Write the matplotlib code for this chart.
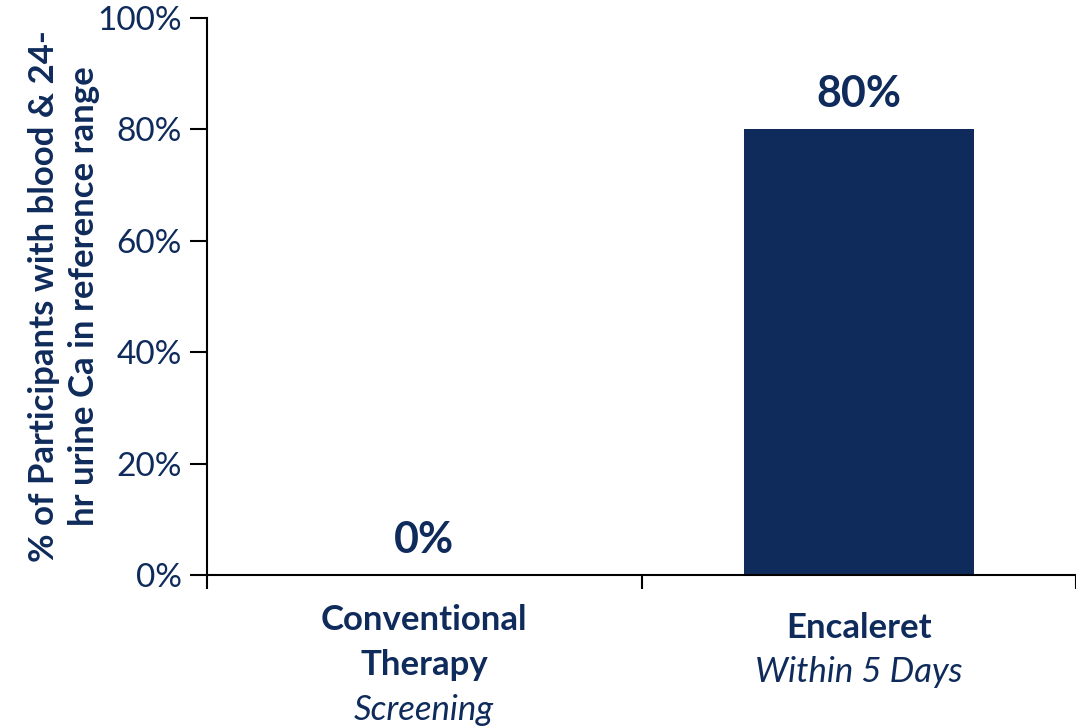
import matplotlib
matplotlib.use("Agg")
import matplotlib.pyplot as plt
from matplotlib.ticker import FixedLocator, PercentFormatter
from matplotlib.transforms import blended_transform_factory

categories = ["Conventional\nTherapy", "Encaleret"]
subtitles = ["Screening", "Within 5 Days"]
values = [0, 80]
value_labels = ["0%", "80%"]
y_ticks = [0, 20, 40, 60, 80, 100]

navy = "#0F2B5B"
plt.rcParams["font.family"] = ["Lato", "DejaVu Sans"]

W, H = 1076, 728
fig = plt.figure(figsize=(W / 100, H / 100), dpi=100)
ax = fig.add_axes([207 / W, 1 - 575 / H, 1 - 207 / W, (575 - 18) / H])

x = list(range(len(categories)))
ax.bar(x, values, width=0.53, color=navy, zorder=2)

ax.set_xlim(-0.5, len(categories) - 0.5)
ax.set_ylim(0, 100)
ax.yaxis.set_major_locator(FixedLocator(y_ticks))
ax.yaxis.set_major_formatter(PercentFormatter(decimals=0))
ax.tick_params(axis="y", direction="out", length=12, width=1.5, colors="black",
               labelcolor=navy, labelsize=24, pad=6)

# category boundaries as tick marks, labels drawn separately
ax.set_xticks([i - 0.5 for i in range(len(categories) + 1)])
ax.set_xticklabels([])
ax.tick_params(axis="x", direction="out", length=10, width=1.5, colors="black")

for side in ("top", "right"):
    ax.spines[side].set_visible(False)
for side in ("left", "bottom"):
    ax.spines[side].set_linewidth(1.5)

ax.set_ylabel("% of Participants with blood & 24-\nhr urine Ca in reference range",
              fontsize=25, fontweight="bold", color=navy, linespacing=1.3)
ax.yaxis.set_label_coords(-0.123, 0.5)

# value labels above bars
for xi, v, lab in zip(x, values, value_labels):
    ax.annotate(lab, (xi, v), xytext=(0, 11), textcoords="offset points",
                ha="center", va="bottom", fontsize=31, fontweight="bold", color=navy)

# category labels below the axis (one line each)
trans = blended_transform_factory(ax.transData, fig.transFigure)
lines = [
    (x[0], 620, "Conventional", "bold", "normal"),
    (x[0], 665, "Therapy", "bold", "normal"),
    (x[0], 710, subtitles[0], "normal", "italic"),
    (x[1], 628, categories[1], "bold", "normal"),
    (x[1], 672, subtitles[1], "normal", "italic"),
]
for xi, ypix, txt, weight, style in lines:
    ax.text(xi, 1 - ypix / H, txt, transform=trans, ha="center", va="center",
            fontsize=25, fontweight=weight, fontstyle=style, color=navy)

fig.savefig("out.png", dpi=100)
